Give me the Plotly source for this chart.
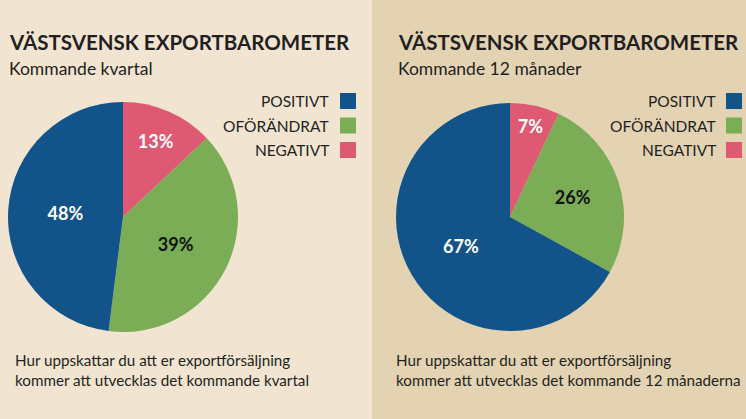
import plotly.graph_objects as go

W, H = 746, 419

categories = ["NEGATIVT", "OFÖRÄNDRAT", "POSITIVT"]
quarter_values = [13, 39, 48]
year_values = [7, 26, 67]
legend_order = ["POSITIVT", "OFÖRÄNDRAT", "NEGATIVT"]

title_text = "VÄSTSVENSK EXPORTBAROMETER"
subtitles = ["Kommande kvartal", "Kommande 12 månader"]
questions = [
    "Hur uppskattar du att er exportförsäljning<br>kommer att utvecklas det kommande kvartal",
    "Hur uppskattar du att er exportförsäljning<br>kommer att utvecklas det kommande 12 månaderna",
]

colors = {"POSITIVT": "#12548a", "OFÖRÄNDRAT": "#7bad57", "NEGATIVT": "#dd5a72"}
label_colors = {"POSITIVT": "white", "OFÖRÄNDRAT": "#111111", "NEGATIVT": "white"}
bg_left, bg_right = "#f1e5d1", "#e3d3b3"
FONT = "Lato"

def px(x):
    return x / W

def py(y):
    return 1 - y / H

fig = go.Figure()

panels = [
    dict(values=quarter_values, cx=123, cy=217, r=115, x0=8, legend_right=331, box_x=340, q_x=14),
    dict(values=year_values, cx=510, cy=217, r=114, x0=397, legend_right=718, box_x=726, q_x=395),
]

for i, p in enumerate(panels):
    fig.add_trace(go.Pie(
        labels=categories,
        values=p["values"],
        sort=False,
        direction="clockwise",
        rotation=0,
        marker=dict(colors=[colors[c] for c in categories], line=dict(width=0)),
        texttemplate="%{value}%",
        textposition="inside",
        insidetextfont=dict(family=FONT, size=18, color=[label_colors[c] for c in categories], weight="bold"),
        domain=dict(x=[px(p["cx"] - p["r"]), px(p["cx"] + p["r"])],
                    y=[py(p["cy"] + p["r"]), py(p["cy"] - p["r"])]),
        showlegend=False,
        hoverinfo="label+percent",
    ))

shapes = [
    dict(type="rect", xref="paper", yref="paper", x0=0, x1=px(372), y0=0, y1=1,
         fillcolor=bg_left, line=dict(width=0), layer="below"),
    dict(type="rect", xref="paper", yref="paper", x0=px(372), x1=1, y0=0, y1=1,
         fillcolor=bg_right, line=dict(width=0), layer="below"),
]
annotations = []
for i, p in enumerate(panels):
    annotations.append(dict(text="<b>" + title_text + "</b>", x=px(p["x0"] - 1), y=py(42), xref="paper", yref="paper",
                            xanchor="left", yanchor="middle", showarrow=False,
                            font=dict(family=FONT, size=20.5, color="#231f20")))
    annotations.append(dict(text=subtitles[i], x=px(p["x0"] - 1), y=py(68), xref="paper", yref="paper",
                            xanchor="left", yanchor="middle", showarrow=False,
                            font=dict(family=FONT, size=17.5, color="#231f20")))
    annotations.append(dict(text=questions[i], x=px(p["q_x"] - 1), y=py(370), xref="paper", yref="paper",
                            xanchor="left", yanchor="middle", align="left", showarrow=False,
                            font=dict(family=FONT, size=15.2, color="#231f20")))
    for j, name in enumerate(legend_order):
        yc = 101 + j * 24.5
        annotations.append(dict(text=name, x=px(p["legend_right"]), y=py(yc), xref="paper", yref="paper",
                                xanchor="right", yanchor="middle", showarrow=False,
                                font=dict(family=FONT, size=15.5, color="#231f20")))
        shapes.append(dict(type="rect", xref="paper", yref="paper",
                           x0=px(p["box_x"]), x1=px(p["box_x"] + 16),
                           y0=py(yc + 8), y1=py(yc - 8),
                           fillcolor=colors[name], line=dict(width=0)))

fig.update_layout(
    width=W, height=H,
    margin=dict(l=0, r=0, t=0, b=0),
    paper_bgcolor=bg_left,
    plot_bgcolor=bg_left,
    shapes=shapes,
    annotations=annotations,
    font=dict(family=FONT),
)

fig.write_html("out.html", config={"displayModeBar": False},
               post_script="document.body.style.margin='0';document.body.style.overflow='hidden';")
